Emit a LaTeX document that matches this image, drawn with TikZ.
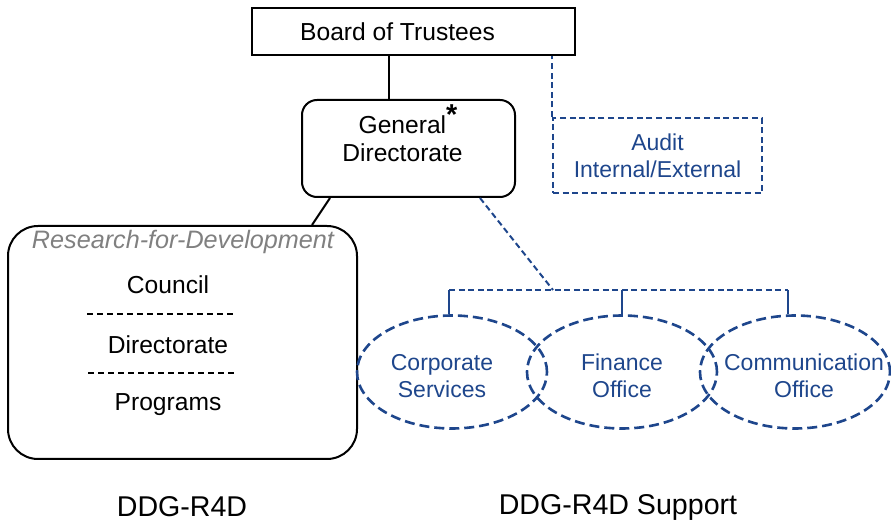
\documentclass[tikz,border=0pt]{standalone}
\usepackage{fontspec}
\setmainfont{Liberation Sans}
\usetikzlibrary{shapes.geometric}

\definecolor{orgblue}{RGB}{30,70,140}
\definecolor{orggray}{RGB}{128,128,128}

% two centred lines that do not widen the oval, shifted sideways by #1
\newcommand{\ovaltext}[3]{\rule{0pt}{12.5pt}\makebox[0pt]{\kern#1#2\kern-#1}\\\makebox[0pt]{\kern#1#3\kern-#1}}

\tikzset{
  mainbox/.style={draw, line width=1pt, font=\fontsize{12.3}{14}\selectfont, align=center},
  unitoval/.style={ellipse, draw=orgblue, line width=1.3pt, dash pattern=on 5pt off 2.5pt,
    inner sep=0pt, minimum width=95pt, minimum height=56.5pt, text=orgblue, align=center,
    font=\fontsize{11.5}{13.5}\selectfont},
  bluelink/.style={draw=orgblue, line width=1pt, dash pattern=on 3pt off 1.8pt},
  sepline/.style={line width=1pt, dash pattern=on 3.2pt off 1.8pt},
  plaintext/.style={font=\fontsize{12.3}{15}\selectfont}
}

\begin{document}
\begin{tikzpicture}[x=0.5pt, y=-0.5pt]
                \useasboundingbox (0,0) rectangle (891,524);
                % top of the chart
                \node[mainbox, minimum width=161.5pt, minimum height=23.5pt] (board) at (413.5,31.5) {Board of Trustees\hspace{16pt}};
                \node[mainbox, rounded corners=7.5pt, minimum width=106.5pt, minimum height=48.5pt] (gd) at (408.5,148.5) {General\smash{\textsuperscript{\bfseries\Large *}}\hspace{4pt}\\Directorate\hspace{6pt}\rule[-10pt]{0pt}{10pt}};
                \node[bluelink, minimum width=104.5pt, minimum height=37.5pt, text=orgblue, align=center, font=\fontsize{11.5}{13.5}\selectfont] (audit) at (657.5,155.5) {Audit\\Internal/External};

                % research for development
                \node[draw, line width=1pt, rounded corners=15pt, minimum width=174.5pt, minimum height=116.5pt] (r4d) at (182.5,342.5) {};
                \node[text=orggray, font=\fontsize{12.6}{15}\selectfont\itshape] (r4dtitle) at (183,242) {Research-for-Development};
                \node[plaintext] (council) at (168,285) {Council};
                \node[plaintext] (rdir) at (168,345) {Directorate};
                \node[plaintext] (programs) at (168,405) {Programs};
                \draw[sepline] (87,314) -- (235,314);
                \draw[sepline] (88,373) -- (237,373);

                % support units
                \node[unitoval] (corp) at (452,372) {\ovaltext{-5pt}{Corporate}{Services}};
                \node[unitoval] (fin) at (622,372) {\ovaltext{0pt}{Finance}{Office}};
                \node[unitoval] (comm) at (795,372) {\ovaltext{4.5pt}{Communication}{Office}};
                \coordinate (bar) at (553,290);

                % links
                \draw[line width=1pt] ([xshift=-9.75pt]gd.north) -- ([xshift=-9.75pt]gd.north |- board.south);
                \draw[line width=1pt] ([xshift=-39.25pt]gd.south) -- ([xshift=64.75pt]r4d.north);
                \draw[bluelink] (audit.north west) -- (audit.north west |- board.south);
                \draw[bluelink] ([xshift=35.75pt]gd.south) -- (bar);
                \draw[bluelink] ([xshift=-1.5pt]corp.north |- bar) -- ([xshift=-3.5pt]comm.north |- bar);
                \foreach \n/\dx in {corp/-1.5pt, fin/0pt, comm/-3.5pt}
                    \draw[orgblue, line width=1pt] ([xshift=\dx]\n.north) -- ([xshift=\dx]\n.north |- bar);

                % captions
                \node[font=\fontsize{14.3}{16}\selectfont] (capleft) at (182,507) {DDG-R4D};
                \node[font=\fontsize{14.3}{16}\selectfont] (capright) at (618,507) {DDG-R4D Support};
            \end{tikzpicture}
\end{document}
